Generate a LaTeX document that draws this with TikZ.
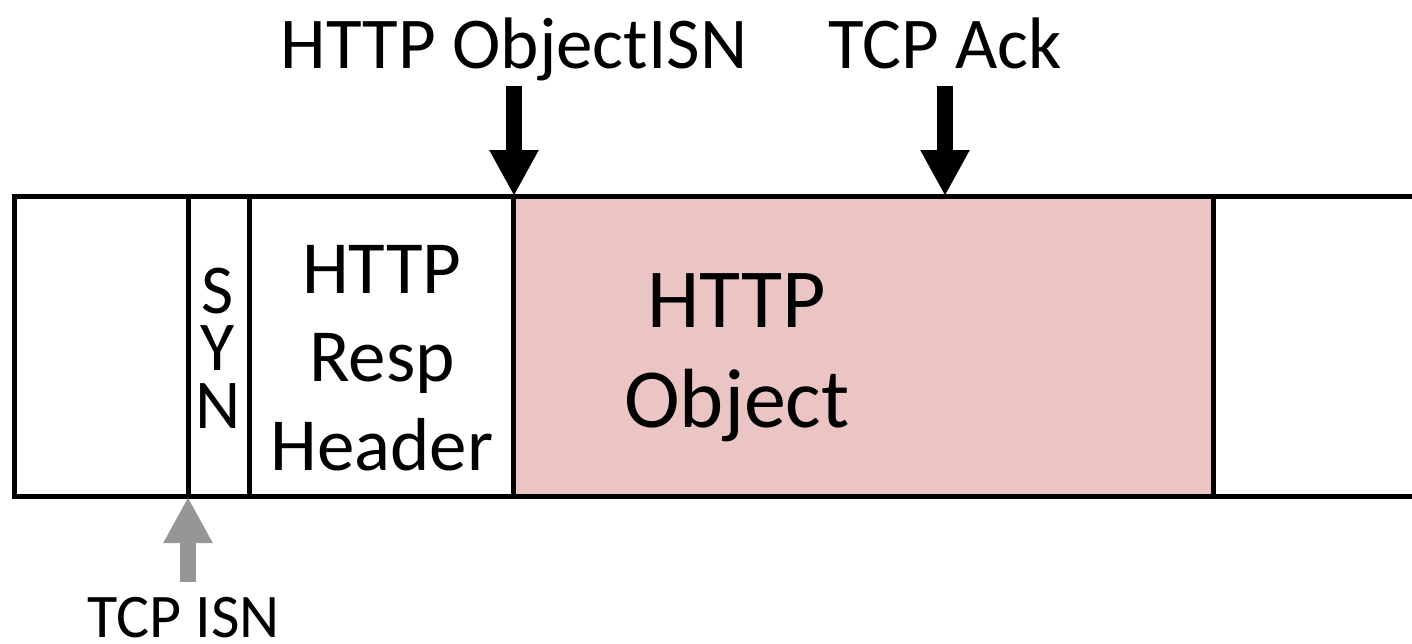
\documentclass[tikz,border=0pt]{standalone}
\usepackage{fontspec}
\setmainfont{Carlito}
\usetikzlibrary{arrows.meta}
\definecolor{objpink}{RGB}{235,196,196}
\definecolor{isngray}{RGB}{150,150,150}
\begin{document}
\begin{tikzpicture}[x=0.5pt,y=-0.5pt,
  frame/.style={line width=2.5pt},
  bigarrow/.style={line width=8pt, -{Triangle[width=23pt,length=23pt]}},
  toplbl/.style={anchor=base, inner sep=0pt, text depth=9pt, font=\fontsize{36.5}{44}\selectfont},
  boxtext/.style={anchor=base, align=center, inner sep=0pt}]
\useasboundingbox (0,0) rectangle (1412,643);
% pink object segment
\fill[objpink] (513,196.5) rectangle (1213,496.5);
% strip outline (open to the right)
\draw[frame] (1430,196.5) -- (14.5,196.5) -- (14.5,496.5) -- (1430,496.5);
\draw[frame] (188,196.5) -- (188,496.5);
\draw[frame] (249,196.5) -- (249,496.5);
\draw[frame] (513,196.5) -- (513,496.5);
\draw[frame] (1213,196.5) -- (1213,496.5);
% segment texts (base = baseline of the last line)
\node[boxtext, font=\fontsize{35}{28.75}\selectfont] (syn) at (218,428) {S\\Y\\N};
\node[boxtext, font=\fontsize{37.5}{44.25}\selectfont] (hdr) at (382,470) {HTTP\\Resp\\Header};
\node[boxtext, font=\fontsize{42}{50}\selectfont] (obj) at (737,427) {HTTP\\Object};
% labels
\node[toplbl] (objisn) at (514,68) {HTTP ObjectISN};
\node[toplbl] (ack) at (945,68) {TCP Ack};
\node[anchor=base, inner sep=0pt, text height=27.5pt, font=\fontsize{31}{37}\selectfont] (tcpisn) at (184,637) {TCP ISN};
% arrow tips
\coordinate (t1) at (514,196);
\coordinate (t2) at (945,196);
\coordinate (t3) at (188,497);
\draw[bigarrow] (objisn.south) -- (t1);
\draw[bigarrow] (ack.south) -- (t2);
\draw[bigarrow, isngray] (t3 |- tcpisn.north) -- (t3);
\end{tikzpicture}
\end{document}
